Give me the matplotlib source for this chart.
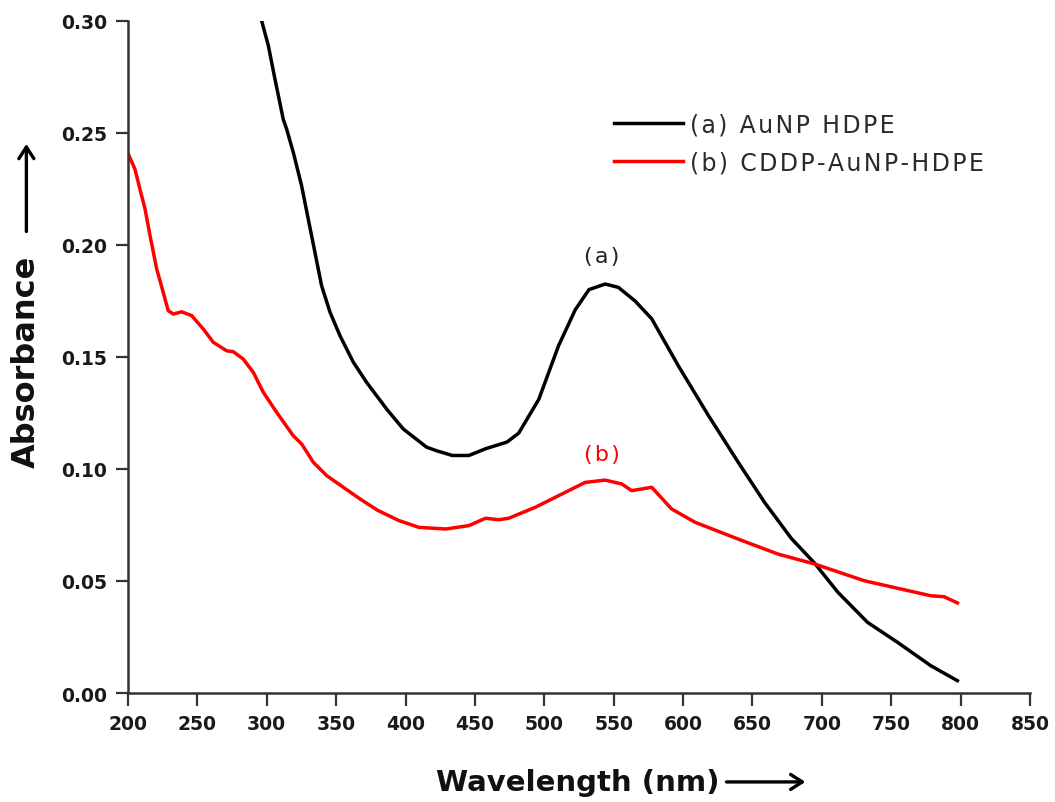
# UV-Vis absorbance spectra of gold-nanoparticle HDPE films,
# with and without cisplatin (CDDP) loading.

import matplotlib.pyplot as plt
from matplotlib.patches import FancyArrowPatch

# (a) AuNP HDPE
wl_a = [296.3, 301.1, 305.9, 311.9, 314.3, 319.1, 325.1, 329.9, 334.7, 339.5,
        345.6, 352.8, 362.4, 372, 386.4, 398.4, 415.2, 422.4, 433.7, 445.7,
        457.7, 473.2, 481.6, 496, 510.3, 522.3, 532.2, 543.9, 553.4, 565.3,
        577.4, 596.6, 618.1, 639.7, 658.8, 678, 694.7, 711.5, 733, 754.6,
        778.5, 797.7]
abs_a = [0.300, 0.289, 0.274, 0.256, 0.2517, 0.2413, 0.2264, 0.2115, 0.1967, 0.1818,
         0.1699, 0.1594, 0.1476, 0.1386, 0.1267, 0.1178, 0.1097, 0.1081, 0.106, 0.106,
         0.109, 0.112, 0.116, 0.131, 0.155, 0.171, 0.180, 0.1825, 0.181, 0.175,
         0.167, 0.146, 0.124, 0.103, 0.085, 0.069, 0.058, 0.045, 0.0315, 0.0226,
         0.0122, 0.0055]

# (b) CDDP-AuNP-HDPE
wl_b = [200.2, 205, 208.6, 212.3, 215.9, 220.7, 225.4, 229, 232.7, 238.7,
        245.9, 254.3, 261.5, 271.1, 275.9, 283.1, 290.3, 297.5, 307.2, 319.1,
        325.2, 333.5, 343.2, 367.2, 380, 395, 409.8, 429, 445.7, 457.7,
        467.2, 474.4, 493.6, 512.7, 529.5, 543.9, 555.8, 563, 577.4, 591.8,
        608.6, 639.7, 668.4, 694.7, 730.6, 778.5, 788, 797.7]
abs_b = [0.2405, 0.2338, 0.2249, 0.216, 0.2041, 0.1892, 0.1788, 0.1706, 0.1691, 0.1701,
         0.1684, 0.1624, 0.1565, 0.1527, 0.1523, 0.149, 0.1431, 0.1342, 0.1252, 0.1148,
         0.1111, 0.103, 0.097, 0.0866, 0.0815, 0.077, 0.0739, 0.0732, 0.0747, 0.078,
         0.0773, 0.078, 0.0829, 0.0888, 0.094, 0.095, 0.0933, 0.0903, 0.0918, 0.0821,
         0.0762, 0.0687, 0.062, 0.0576, 0.0501, 0.0434, 0.043, 0.0402]

x_ticks = list(range(200, 851, 50))
y_ticks = [0.00, 0.05, 0.10, 0.15, 0.20, 0.25, 0.30]

HAIR = "\u200a"


def tracked(s):
    """Loosen letter spacing a little by putting hair spaces between glyphs."""
    return HAIR.join(s)


plt.rcParams["font.family"] = ["DejaVu Sans"]

fig = plt.figure(figsize=(10.55, 8.03), dpi=100)
ax = fig.add_axes([0.1213, 0.1357, 0.8550, 0.8373])

ax.plot(wl_a, abs_a, color="black", linewidth=2.5, label=tracked("(a) AuNP HDPE"))
ax.plot(wl_b, abs_b, color="#ff0000", linewidth=2.5,
        label=tracked("(b) CDDP-AuNP-HDPE"))

ax.set_xlim(200, 850)
ax.set_ylim(0, 0.30)
ax.set_xticks(x_ticks)
ax.set_yticks(y_ticks)
ax.set_yticklabels([f"{v:.2f}" for v in y_ticks])

for side in ("top", "right"):
    ax.spines[side].set_visible(False)
for side in ("left", "bottom"):
    ax.spines[side].set_linewidth(1.8)
    ax.spines[side].set_color("#333333")
ax.tick_params(direction="out", length=9, width=1.6, color="#333333",
               labelsize=13.5, pad=6)
for lab in ax.get_xticklabels() + ax.get_yticklabels():
    lab.set_fontweight("bold")
    lab.set_color("#1a1a1a")

# peak labels
ax.text(541.6, 0.195, tracked("(a)"), fontsize=16, color="#222222",
        ha="center", va="center")
ax.text(541.6, 0.1066, tracked("(b)"), fontsize=16, color="#ff0000",
        ha="center", va="center")

leg = ax.legend(loc="upper left", bbox_to_anchor=(0.539, 0.864), frameon=False,
                handlelength=2.9, handletextpad=0.3, labelspacing=0.62,
                borderpad=0, borderaxespad=0, prop={"size": 17})
for t in leg.get_texts():
    t.set_color("#2a2a2a")

# axis titles with arrows
fig.text(0.025, 0.549, "Absorbance", rotation=90, fontsize=23, fontweight="bold",
         ha="center", va="center", color="#111111")
fig.patches.append(FancyArrowPatch(
    (0.025, 0.707), (0.025, 0.823), transform=fig.transFigure,
    arrowstyle="->,head_length=0.7,head_width=0.45", linewidth=2.4,
    color="black", mutation_scale=12))
fig.text(0.548, 0.025, "Wavelength (nm)", fontsize=21, fontweight="bold",
         ha="center", va="center", color="#111111")
fig.patches.append(FancyArrowPatch(
    (0.686, 0.025), (0.766, 0.025), transform=fig.transFigure,
    arrowstyle="->,head_length=0.7,head_width=0.45", linewidth=2.4,
    color="black", mutation_scale=12))

fig.savefig("out.png", dpi=100)
